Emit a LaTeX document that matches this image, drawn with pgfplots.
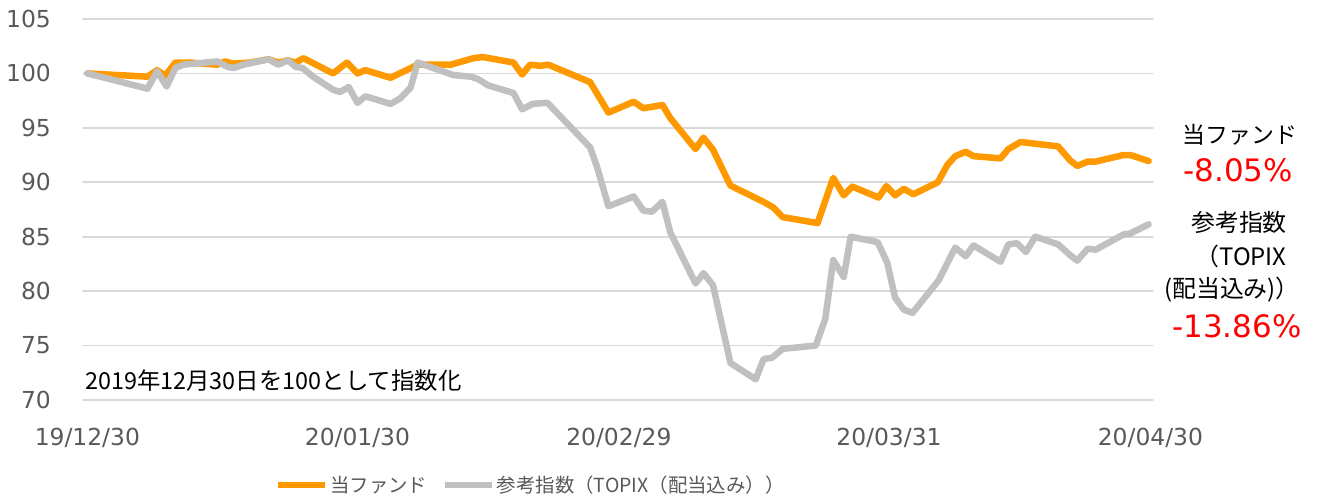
\documentclass[border=0pt]{standalone}
\usepackage{pgfplots}
\pgfplotsset{compat=1.18}
\usepackage{fontspec}
\setmainfont{DejaVu Sans}
\newfontfamily\jp{Noto Sans CJK JP}
\definecolor{fundc}{RGB}{255,153,0}
\definecolor{idxc}{RGB}{192,192,192}
\definecolor{gridc}{RGB}{217,217,217}
\definecolor{tickc}{RGB}{89,89,89}
\begin{document}
\begin{tikzpicture}[x=1bp,y=1bp]
\useasboundingbox (-83,-98) rectangle (1235,400);
\begin{axis}[at={(0,0)}, anchor=south west, scale only axis,
  width=1070bp, height=381bp,
  xmin=-0.5, xmax=122.3, ymin=70, ymax=105,
  axis line style={draw=none}, tick style={draw=none},
  ymajorgrids, grid style={gridc, line width=1.6bp},
  ytick={70,75,80,85,90,95,100,105},
  xtick={0,31,61,92,122},
  xticklabels={19/12/30,20/01/30,20/02/29,20/03/31,20/04/30},
  /pgf/number format/assume math mode=true,
  ticklabel style={font=\fontsize{23.5}{27}\selectfont, text=tickc},
  yticklabel style={inner sep=0pt, anchor=east, xshift=-32bp},
  xticklabel style={inner sep=0pt, anchor=north, yshift=-28bp},
  legend columns=2,
  legend style={draw=none, fill=none, at={(0.179,-0.223)}, anchor=west,
    font=\jp\fontsize{19.5}{23}\selectfont, text=tickc,
    /tikz/every even column/.append style={column sep=12bp},
    inner sep=0pt},
  legend image code/.code={\draw[#1, line width=6.5bp] (0,0) -- (47bp,0);},
  line join=round, line cap=round,
]
\addplot[fundc, line width=6.5bp] coordinates {
(0,100) (6.9,99.7) (8.0,100.3) (8.95,99.8) (10.1,101.0) (11.8,101.0) (14.9,100.8)
(15.8,101.1) (16.8,100.9) (18.7,101.0) (20.8,101.3) (21.9,101.0) (23.0,101.2)
(23.9,101.0) (24.8,101.4) (28.2,100.0) (29.8,101.0) (31.0,100.0) (31.9,100.3)
(34.8,99.6) (37.9,100.8) (41.7,100.8) (44.3,101.4) (45.4,101.5) (48.9,101.0)
(49.9,99.9) (50.8,100.8) (52.0,100.7) (52.9,100.8) (57.7,99.2) (58.9,97.6)
(59.8,96.4) (62.7,97.4) (63.8,96.8) (66.0,97.1) (66.9,95.9) (69.8,93.05)
(70.7,94.1) (71.8,93.0) (73.8,89.7) (77.6,88.2) (78.7,87.7) (79.8,86.8)
(83.8,86.25) (85.6,90.4) (86.8,88.8) (87.8,89.6) (90.8,88.6) (91.7,89.65)
(92.7,88.8) (93.7,89.4) (94.8,88.9) (97.6,90.0) (98.7,91.6) (99.6,92.4)
(100.8,92.8) (101.7,92.4) (104.8,92.2) (105.7,93.05) (107.1,93.7) (111.4,93.3)
(112.8,92.0) (113.6,91.5) (114.8,91.9) (115.7,91.9) (118.9,92.5) (119.7,92.5)
(121.8,91.95)
};
\addlegendentry{当ファンド}
\addplot[idxc, line width=6.5bp] coordinates {
(0,100) (6.9,98.6) (8.0,100.2) (9.1,98.8) (10.1,100.5) (11.0,100.8) (14.9,101.1)
(16.1,100.6) (16.8,100.5) (17.9,100.8) (20.8,101.3) (21.9,100.8) (23.0,101.2)
(23.9,100.6) (24.7,100.5) (25.9,99.7) (28.2,98.5) (29.0,98.3) (30.0,98.75)
(31.0,97.3) (31.9,97.9) (34.8,97.2) (35.9,97.7) (37.1,98.7) (37.9,101.0)
(42.0,99.85) (44.0,99.7) (44.8,99.5) (46.0,98.9) (48.9,98.2) (49.9,96.7)
(51.1,97.2) (52.8,97.3) (57.7,93.2) (58.5,91.4) (59.8,87.8) (62.7,88.7)
(63.8,87.4) (64.8,87.3) (66.0,88.2) (66.9,85.4) (69.8,80.7) (70.7,81.65)
(71.8,80.55) (73.8,73.4) (76.7,71.9) (77.6,73.75) (78.6,73.9) (79.8,74.7)
(83.6,75.0) (84.7,77.5) (85.6,82.85) (86.8,81.3) (87.6,85.0) (90.7,84.5)
(91.8,82.6) (92.7,79.4) (93.7,78.3) (94.7,78.0) (97.7,81.0) (99.6,84.0)
(100.8,83.2) (101.7,84.2) (104.8,82.7) (105.7,84.3) (106.7,84.4) (107.7,83.6)
(108.8,85.0) (111.4,84.3) (112.8,83.3) (113.6,82.8) (114.8,83.9) (115.7,83.8)
(118.9,85.2) (119.7,85.3) (121.8,86.14)
};
\addlegendentry{参考指数（TOPIX（配当込み））}
\end{axis}
\node[anchor=west, inner sep=0pt, font=\jp\fontsize{23.5}{27}\selectfont] at (2,19) {2019年12月30日を100として指数化};
\node[inner sep=0pt, font=\jp\fontsize{23}{27}\selectfont] at (1157,265) {当ファンド};
\node[inner sep=0pt, text=red, font=\fontsize{31}{36}\selectfont] at (1155,230) {-8.05\%};
\node[inner sep=0pt, font=\jp\fontsize{24}{28}\selectfont] at (1156,178) {参考指数};
\node[inner sep=0pt, font=\jp\fontsize{24}{28}\selectfont] at (1158,144) {（TOPIX};
\node[inner sep=0pt, font=\jp\fontsize{24}{28}\selectfont] at (1149,110) {(配当込み)）};
\node[inner sep=0pt, text=red, font=\fontsize{31}{36}\selectfont] at (1154,74) {-13.86\%};
\end{tikzpicture}
\end{document}
